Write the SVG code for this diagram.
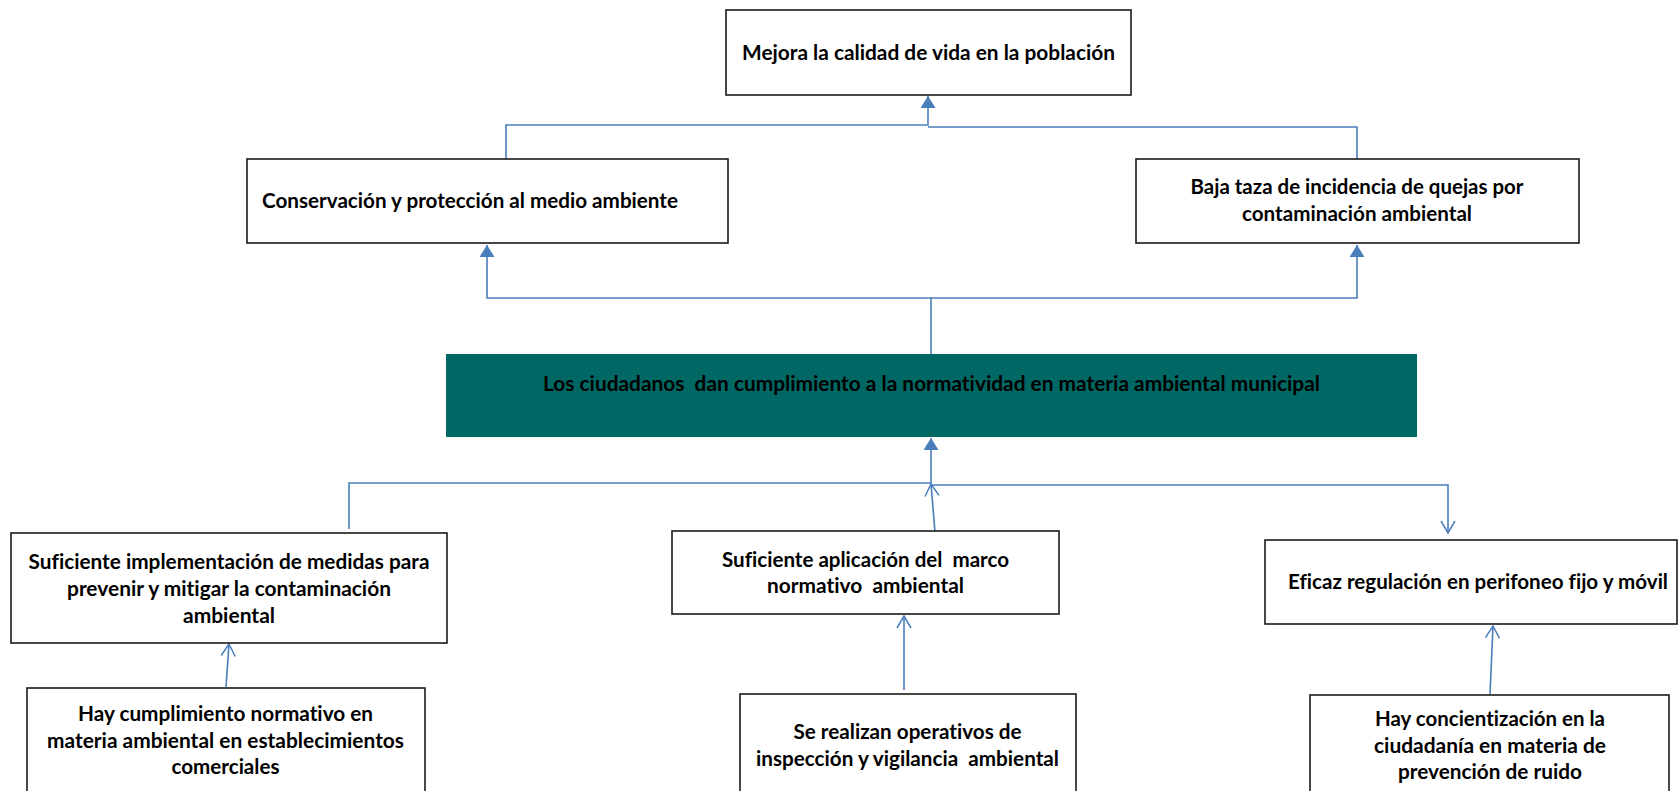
<svg xmlns="http://www.w3.org/2000/svg" width="1679" height="791" viewBox="0 0 1679 791">
<style>
.box{fill:#ffffff;stroke:#1a1a1a;stroke-width:1.6}
.teal{fill:#006864;stroke:none}
.t{font-family:Lato,"Liberation Sans",sans-serif;font-weight:700;font-size:20px;fill:#000;white-space:pre;font-variant-ligatures:none}
.c{text-anchor:middle}
.ln{fill:none;stroke:#4a7ebb;stroke-width:1.6}
</style>
<defs>
<marker id="tri" markerUnits="userSpaceOnUse" markerWidth="14" markerHeight="16" refX="12" refY="7.5" orient="auto">
<path d="M0,0 L12,7.5 L0,15 z" fill="#4a7ebb"/>
</marker>
<marker id="open" markerUnits="userSpaceOnUse" markerWidth="16" markerHeight="18" refX="13" refY="8" orient="auto">
<path d="M1,1 L13,8 L1,15" fill="none" stroke="#4a7ebb" stroke-width="1.5"/>
</marker>
</defs>

<g id="connectors">
<path class="ln" d="M506,159 V125 H928 V96" marker-end="url(#tri)"/>
<path class="ln" d="M1357,159 V127 H928"/>
<path class="ln" d="M931,354 V298 H487 V245" marker-end="url(#tri)"/>
<path class="ln" d="M931,298 H1357 V245" marker-end="url(#tri)"/>
<path class="ln" d="M349,529 V483 H931 V438" marker-end="url(#tri)"/>
<path class="ln" d="M935,532 L931,484" marker-end="url(#open)"/>
<path class="ln" d="M931,485 H1448 V533" marker-end="url(#open)"/>
<path class="ln" d="M226,687 L229,644" marker-end="url(#open)"/>
<path class="ln" d="M904,690 L904,616" marker-end="url(#open)"/>
<path class="ln" d="M1490,694 L1493,626" marker-end="url(#open)"/>
</g>

<g id="n-mejora">
<rect class="box" x="726" y="10" width="405" height="85"/>
<text class="t c" x="928.5" y="60" textLength="373" lengthAdjust="spacingAndGlyphs">Mejora la calidad de vida en la población</text>
</g>

<g id="n-conservacion">
<rect class="box" x="247" y="159" width="481" height="84"/>
<text class="t" x="262" y="208" textLength="416" lengthAdjust="spacingAndGlyphs">Conservación y protección al medio ambiente</text>
</g>

<g id="n-baja">
<rect class="box" x="1136" y="159" width="443" height="84"/>
<text class="t c" x="1357" y="194" textLength="333" lengthAdjust="spacingAndGlyphs">Baja taza de incidencia de quejas por</text>
<text class="t c" x="1357" y="221" textLength="230" lengthAdjust="spacingAndGlyphs">contaminación ambiental</text>
</g>

<g id="n-central">
<rect class="teal" x="446" y="354" width="971" height="83"/>
<text class="t c" x="931.5" y="391" textLength="777" lengthAdjust="spacingAndGlyphs">Los ciudadanos  dan cumplimiento a la normatividad en materia ambiental municipal</text>
</g>

<g id="n-medidas">
<rect class="box" x="11" y="533" width="436" height="110"/>
<text class="t c" x="229" y="569" textLength="401" lengthAdjust="spacingAndGlyphs">Suficiente implementación de medidas para</text>
<text class="t c" x="229" y="596" textLength="324" lengthAdjust="spacingAndGlyphs">prevenir y mitigar la contaminación</text>
<text class="t c" x="229" y="623" textLength="92" lengthAdjust="spacingAndGlyphs">ambiental</text>
</g>

<g id="n-marco">
<rect class="box" x="672" y="531" width="387" height="83"/>
<text class="t c" x="865.5" y="567" textLength="287" lengthAdjust="spacingAndGlyphs">Suficiente aplicación del  marco</text>
<text class="t c" x="865.5" y="593" textLength="197" lengthAdjust="spacingAndGlyphs">normativo  ambiental</text>
</g>

<g id="n-perifoneo">
<rect class="box" x="1265" y="540" width="412" height="84"/>
<text class="t c" x="1478" y="589" textLength="380" lengthAdjust="spacingAndGlyphs">Eficaz regulación en perifoneo fijo y móvil</text>
</g>

<g id="n-establecimientos">
<rect class="box" x="27" y="688" width="398" height="120"/>
<text class="t c" x="225.5" y="721" textLength="295" lengthAdjust="spacingAndGlyphs">Hay cumplimiento normativo en</text>
<text class="t c" x="225.5" y="748" textLength="357" lengthAdjust="spacingAndGlyphs">materia ambiental en establecimientos</text>
<text class="t c" x="225.5" y="774" textLength="108" lengthAdjust="spacingAndGlyphs">comerciales</text>
</g>

<g id="n-operativos">
<rect class="box" x="740" y="694" width="336" height="120"/>
<text class="t c" x="907.5" y="739" textLength="228" lengthAdjust="spacingAndGlyphs">Se realizan operativos de</text>
<text class="t c" x="907.5" y="766" textLength="303" lengthAdjust="spacingAndGlyphs">inspección y vigilancia  ambiental</text>
</g>

<g id="n-ruido">
<rect class="box" x="1310" y="695" width="359" height="120"/>
<text class="t c" x="1490" y="726" textLength="230" lengthAdjust="spacingAndGlyphs">Hay concientización en la</text>
<text class="t c" x="1490" y="753" textLength="232" lengthAdjust="spacingAndGlyphs">ciudadanía en materia de</text>
<text class="t c" x="1490" y="779" textLength="184" lengthAdjust="spacingAndGlyphs">prevención de ruido</text>
</g>
</svg>
